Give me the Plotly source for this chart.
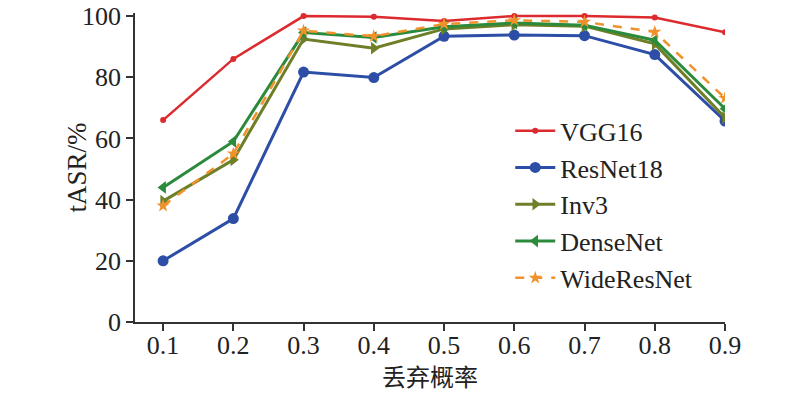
import plotly.graph_objects as go

x_vals = [0.1, 0.2, 0.3, 0.4, 0.5, 0.6, 0.7, 0.8, 0.9]
x_labels = ["0.1", "0.2", "0.3", "0.4", "0.5", "0.6", "0.7", "0.8", "0.9"]
y_ticks = [0, 20, 40, 60, 80, 100]
vgg16 = [66.0, 86.0, 100.0, 99.8, 98.4, 100.0, 100.0, 99.5, 94.7]
resnet18 = [20.0, 33.8, 81.7, 79.9, 93.4, 93.8, 93.6, 87.4, 65.7]
inv3 = [39.5, 53.0, 92.5, 89.5, 95.8, 97.2, 96.7, 90.9, 66.8]
densenet = [44.0, 59.0, 94.6, 93.0, 96.5, 97.7, 97.0, 92.1, 69.7]
wideresnet = [38.0, 55.0, 95.2, 93.4, 97.4, 98.6, 98.1, 94.8, 73.2]

names = ["VGG16", "ResNet18", "Inv3", "DenseNet", "WideResNet"]
series = [vgg16, resnet18, inv3, densenet, wideresnet]
colors = ["#dc2a2f", "#2d4ea6", "#6e7f27", "#2c8a3c", "#f0922b"]
symbols = ["circle", "circle", "triangle-right", "triangle-left", "star"]
msizes = [6, 11, 11, 11, 10]
dashes = ["solid", "solid", "solid", "solid", "dash"]
widths = [2.5, 3, 3, 3, 2.5]

fig = go.Figure()
for n, s, c, sym, ms, d, w in zip(names, series, colors, symbols, msizes, dashes, widths):
    fig.add_trace(go.Scatter(
        x=x_vals, y=s, name=n, mode="lines+markers",
        line=dict(color=c, width=w, dash=d),
        marker=dict(symbol=sym, size=ms, color=c),
        cliponaxis=True,
    ))

font = "Liberation Serif, Times New Roman, serif"
fig.update_layout(
    width=800, height=394,
    margin=dict(l=127, r=83, t=5, b=80),
    plot_bgcolor="white", paper_bgcolor="white",
    font=dict(family=font, size=26, color="#222"),
    legend=dict(x=0.636, y=0.695, xanchor="left", yanchor="top",
                bgcolor="rgba(0,0,0,0)", font=dict(size=26, family=font),
                itemwidth=40),
    xaxis=dict(range=[0.06, 0.9], tickvals=x_vals, ticktext=x_labels,
               showline=True, linecolor="#333", linewidth=1.5,
               ticks="outside", ticklen=7, tickcolor="#333", tickwidth=1.5,
               tickfont=dict(size=26, family=font), ticklabelstandoff=-8,
               ticklabeloverflow="allow",
               showgrid=False, zeroline=False, automargin=False),
    yaxis=dict(range=[0, 101], tickvals=y_ticks,
               showline=True, linecolor="#333", linewidth=1.5,
               ticks="outside", ticklen=7, tickcolor="#333", tickwidth=1.5,
               tickfont=dict(size=26, family=font), ticklabeloverflow="allow",
               showgrid=False, zeroline=False, automargin=False),
    annotations=[
        dict(text="tASR/%", xref="paper", yref="paper", x=-0.1, y=0.5,
             xanchor="center", yanchor="middle", textangle=-90, showarrow=False,
             font=dict(family=font, size=27)),
        dict(text="丢弃概率", xref="paper", yref="paper", x=0.5, y=-0.172,
             xanchor="center", yanchor="middle", showarrow=False,
             font=dict(family="Noto Sans CJK SC", size=24)),
    ],
)

fig.write_html("out.html")
